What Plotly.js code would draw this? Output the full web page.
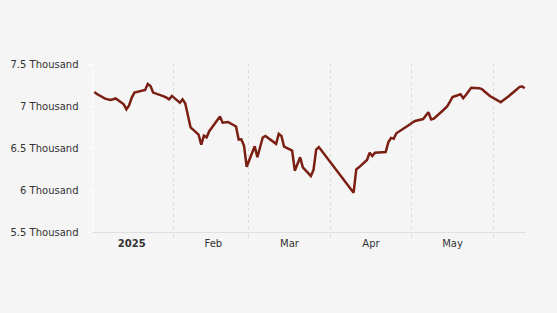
<!DOCTYPE html>
<html>
<head>
<meta charset="utf-8">
<script src="https://cdn.plot.ly/plotly-3.0.1.min.js"></script>
<style>
  html, body { margin: 0; padding: 0; background: #f5f5f5; }
  #chart { width: 557px; height: 313px; }
</style>
</head>
<body>
<div id="chart"></div>
<script>
// Dates (trading days) and values
const dates = [
  '2025-01-02','2025-01-03','2025-01-06','2025-01-07','2025-01-08','2025-01-09','2025-01-10',
  '2025-01-13','2025-01-14','2025-01-15','2025-01-16','2025-01-17',
  '2025-01-20','2025-01-21','2025-01-22','2025-01-23','2025-01-24',
  '2025-01-27','2025-01-28','2025-01-29','2025-01-30','2025-01-31',
  '2025-02-03','2025-02-04','2025-02-05','2025-02-06','2025-02-07',
  '2025-02-10','2025-02-11','2025-02-12','2025-02-13','2025-02-14',
  '2025-02-17','2025-02-18','2025-02-19','2025-02-20','2025-02-21',
  '2025-02-24','2025-02-25','2025-02-26','2025-02-27','2025-02-28',
  '2025-03-03','2025-03-04','2025-03-05','2025-03-06','2025-03-07',
  '2025-03-10','2025-03-11','2025-03-12','2025-03-13','2025-03-14',
  '2025-03-17','2025-03-18','2025-03-19','2025-03-20','2025-03-21',
  '2025-03-24','2025-03-25','2025-03-26','2025-03-27',
  '2025-04-09','2025-04-10','2025-04-11',
  '2025-04-14','2025-04-15','2025-04-16','2025-04-17',
  '2025-04-21','2025-04-22','2025-04-23','2025-04-24','2025-04-25',
  '2025-04-28','2025-04-29','2025-04-30','2025-05-01','2025-05-02',
  '2025-05-05','2025-05-06','2025-05-07','2025-05-08','2025-05-09',
  '2025-05-12','2025-05-13','2025-05-14','2025-05-15','2025-05-16',
  '2025-05-19','2025-05-20','2025-05-21','2025-05-22','2025-05-23',
  '2025-05-26','2025-05-27','2025-05-28','2025-05-29','2025-05-30',
  '2025-06-02','2025-06-03','2025-06-04','2025-06-05','2025-06-06',
  '2025-06-09','2025-06-10','2025-06-11','2025-06-12'
];
const values = [
  7167,7143,7087,7080,7071,7080,7090,
  7020,6961,7008,7100,7160,
  7178,7190,7262,7238,7160,
  7130,7115,7100,7080,7120,
  7039,7080,7032,6889,6746,
  6660,6539,6646,6627,6700,
  6830,6875,6801,6805,6810,
  6756,6600,6604,6525,6277,
  6520,6390,6500,6625,6643,
  6578,6550,6667,6643,6515,
  6468,6230,6320,6389,6270,
  6167,6238,6482,6512,
  5968,6246,6270,
  6357,6444,6405,6444,
  6452,6568,6620,6611,6675,
  6732,6756,6780,6804,6821,
  6845,6880,6925,6840,6850,
  6935,6961,6994,7048,7107,
  7139,7092,7131,7179,7218,
  7210,7202,7173,7143,7119,
  7065,7044,7068,7089,7117,
  7196,7226,7235,7211
];

// Axis labels
const monthStarts = ['2025-01-01','2025-02-01','2025-03-01','2025-04-01','2025-05-01','2025-06-01'];
const monthLabelPos = ['2025-01-16 12:00','2025-02-16','2025-03-16 12:00','2025-04-16','2025-05-16 12:00'];
const monthLabels = ['<b>2025</b>','Feb','Mar','Apr','May'];
const yTickVals = [5500, 6000, 6500, 7000, 7500];
const yTickText = ['5.5 Thousand','6 Thousand','6.5 Thousand','7 Thousand','7.5 Thousand'];

const trace = {
  x: dates,
  y: values,
  type: 'scatter',
  mode: 'lines',
  xperiod: 86400000,
  xperiodalignment: 'middle',
  line: { color: '#7a1f12', width: 2.5 },
  hoverinfo: 'x+y'
};

const layout = {
  width: 557,
  height: 313,
  margin: { l: 93, r: 31, t: 64, b: 81 },
  paper_bgcolor: '#f5f5f5',
  plot_bgcolor: '#f5f5f5',
  showlegend: false,
  font: { family: 'DejaVu Sans, Verdana, sans-serif', size: 10, color: '#444' },
  xaxis: {
    type: 'date',
    range: ['2025-01-02', '2025-06-13'],
    tickmode: 'array',
    tickvals: monthLabelPos,
    ticktext: monthLabels,
    ticks: '',
    showgrid: false,
    zeroline: false,
    showline: true,
    linecolor: '#e0e0e0',
    linewidth: 1,
    tickfont: { size: 10, color: '#333' },
    ticklabelstandoff: 2,
    minor: {
      tickmode: 'array',
      tickvals: monthStarts,
      showgrid: true,
      gridcolor: '#dadada',
      griddash: '3px,3px',
      gridwidth: 1,
      ticks: 'outside',
      ticklen: 5,
      tickcolor: '#e0e0e0'
    },
    fixedrange: true
  },
  yaxis: {
    range: [5500, 7500],
    tickmode: 'array',
    tickvals: yTickVals,
    ticktext: yTickText,
    showgrid: false,
    zeroline: false,
    showline: true,
    linecolor: '#ffffff',
    linewidth: 1.5,
    ticks: 'outside',
    ticklen: 5,
    tickcolor: '#ffffff',
    ticklabelstandoff: 6,
    tickfont: { size: 10, color: '#333' },
    fixedrange: true
  }
};

Plotly.newPlot('chart', [trace], layout, { displayModeBar: false, staticPlot: true });
</script>
</body>
</html>
